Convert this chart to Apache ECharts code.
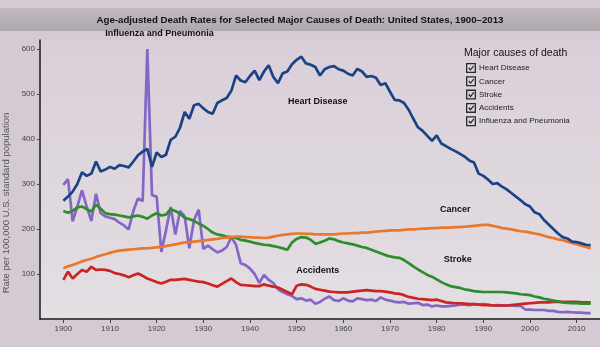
<!DOCTYPE html>
<html><head><meta charset="utf-8">
<script src="https://cdn.jsdelivr.net/npm/echarts@6/dist/echarts.min.js"></script>
<style>html,body{margin:0;padding:0;background:#d4cad3}#c{width:600px;height:347px}</style>
</head><body><div id="c"></div>
<script>
const firstYear = 1900;
const xTickLabels = [1900,1910,1920,1930,1940,1950,1960,1970,1980,1990,2000,2010];
const yTickLabels = [100,200,300,400,500,600];
const seriesNames = ['Heart Disease','Cancer','Stroke','Accidents','Influenza and Pneumonia'];

const heartDisease = [
263,272,283,300,326,318,323,350,328,332,
338,334,342,340,337,350,364,372,378,338,
370,360,365,398,405,425,460,445,475,478,
468,460,456,480,486,491,507,541,530,526,
540,552,531,550,564,538,524,546,550,566,
576,583,568,565,560,541,555,560,562,555,
552,545,541,556,550,538,540,536,520,524,
505,487,486,480,465,445,426,418,407,396,
408,390,384,378,373,367,361,352,348,323,
318,310,300,302,294,288,280,272,264,255,
250,237,233,220,210,200,190,182,179,172,
171,168,165,164];
const cancer = [
113,117,120,124,128,131,134,138,141,144,
147,150,152,153,154,155,156,157,157,158,
159,161,162,164,166,168,170,171,172,173,
174,176,177,178,180,181,182,183,183,182,
182,181,181,180,181,183,185,187,188,189,
190,190,189,189,188,188,188,188,188,189,
190,190,191,191,192,192,193,194,195,196,
197,197,197,198,199,199,200,201,201,202,
202,203,203,203,204,204,205,206,207,208,
209,209,207,205,202,201,199,197,195,194,
192,190,188,185,182,180,177,175,172,169,
166,163,160,157];
const stroke = [
240,236,240,248,250,244,239,254,245,235,
233,232,230,228,226,228,230,227,223,230,
235,230,232,244,240,234,225,222,218,212,
207,200,192,188,186,183,182,180,176,174,
172,169,167,165,164,162,160,157,154,170,
178,182,181,176,167,170,174,179,177,173,
170,168,166,163,160,158,154,150,146,142,
139,137,136,131,124,117,110,104,98,94,
88,82,77,73,71,69,66,64,62,61,
60,60,60,60,60,59,58,57,55,54,
53,50,48,45,43,41,39,37,36,35,
35,34,34,34];
const accidents = [
87,105,90,100,109,105,116,109,110,109,
107,102,100,97,93,97,101,96,90,86,
82,79,83,87,87,88,89,87,85,83,
82,79,75,72,78,84,90,82,76,75,
74,73,73,77,74,72,70,65,60,55,
74,77,76,72,67,65,63,61,60,59,
59,59,61,62,63,64,63,62,62,61,
59,57,56,53,49,47,45,44,43,42,
43,40,37,36,35,35,34,33,33,32,
31,31,30,30,30,30,31,32,33,34,
35,36,37,37,37,38,38,38,38,38,
38,37,37,37];
const influenzaPneumonia = [
298,311,217,250,286,250,218,278,235,228,
225,222,214,208,199,240,268,262,600,275,
272,149,197,249,188,240,228,157,220,243,
156,163,155,148,152,160,182,165,124,120,
112,100,80,98,87,80,66,60,55,51,
44,46,41,43,34,38,45,50,42,40,
46,41,39,46,44,42,43,40,48,43,
41,38,37,38,34,35,36,31,32,28,
30,28,28,29,30,32,32,31,33,32,
33,32,30,31,30,30,30,29,29,21,
21,20,20,20,18,18,16,15,16,15,
14,14,13,13];

// label anchors in data space [year, rate]
const labelAnchors = {
  'Heart Disease': [1954.5, 484],
  'Cancer': [1984, 243],
  'Stroke': [1984.5, 132],
  'Accidents': [1954.5, 108],
  'Influenza and Pneumonia': [1920.6, 600]
};

const colors = ['#1a4386','#e8782c','#2e8c2e','#cc2424','#8466c6'];
const allData = [heartDisease, cancer, stroke, accidents, influenzaPneumonia];
const FONT = "'Liberation Sans', Arial, sans-serif";

function pairs(arr){ return arr.map((v,i)=>[firstYear+i, v]); }

const checkIcon = 'path://M0,0L10,0L10,10L0,10Z M1.3,1.3L1.3,8.7L8.7,8.7L8.7,1.3Z M2.3,5.3L3.5,4.2L4.5,5.9L7.3,2.4L8.2,3.3L4.5,7.8Z';

const series = seriesNames.map((name, k) => ({
  name, type:'line', data: pairs(allData[k]), showSymbol:false, symbol:'none',
  lineStyle:{width:2.7, color:colors[k]}, itemStyle:{color:colors[k]},
  z: 2 + (4-k),
  markPoint:{
    symbol:'circle', symbolSize:0, silent:true,
    data:[{coord: labelAnchors[name]}],
    label:{show:true, position:'inside', formatter:name, color:'#111',
      fontFamily:FONT, fontSize:9, fontWeight:'bold',
      offset: name==='Influenza and Pneumonia' ? [0,-15] : [0,0]}
  }
}));

const chart = echarts.init(document.getElementById('c'), null, {renderer:'canvas'});
chart.setOption({
  animation:false,
  backgroundColor:'#d4cad3',
  textStyle:{fontFamily:FONT},
  graphic:[{type:'rect', z:0, shape:{x:0,y:8,width:600,height:23},
    style:{fill:new echarts.graphic.LinearGradient(0,0,0,1,[{offset:0,color:'#c3bbc2'},{offset:1,color:'#aea6ad'}])}},
   {type:'text', z:5, x:6, y:203, rotation:Math.PI/2,
    style:{text:'Rate per 100,000 U.S. standard population', fill:'#555', font:"9.5px 'Liberation Sans', Arial", align:'center', verticalAlign:'middle'}}],
  title:[
    {text:'Age-adjusted Death Rates for Selected Major Causes of Death: United States, 1900\u20132013',
     left:'center', top:15, padding:0,
     textStyle:{fontFamily:"'Liberation Sans Narrow','Liberation Sans',Arial", fontSize:9.7, fontWeight:'bold', color:'#111'}},
    {text:'Major causes of death', left:464, top:48, padding:0,
     textStyle:{fontFamily:FONT, fontSize:10.5, fontWeight:'normal', color:'#111'}}
  ],
  legend:{
    data:seriesNames, orient:'vertical', left:466, top:63, padding:0,
    itemWidth:10, itemHeight:10, itemGap:3.3, icon:checkIcon,
    itemStyle:{color:'#2a2a2a', borderWidth:0},
    textStyle:{fontFamily:FONT, fontSize:8, color:'#222', padding:[0,0,0,-2]},
    selectedMode:false
  },
  grid:{left:40, right:0, top:40, bottom:28, show:true, borderWidth:0,
    backgroundColor:new echarts.graphic.LinearGradient(0,0,0,1,[{offset:0,color:'#dacfd9'},{offset:1,color:'#e3dfe3'}])},
  xAxis:{type:'value', min:1895, max:2015,
    axisLine:{lineStyle:{color:'#1a1a1a', width:1.5}},
    axisTick:{customValues:xTickLabels, length:4, lineStyle:{color:'#444'}},
    axisLabel:{customValues:xTickLabels, fontSize:8, color:'#444', margin:6, formatter:v=>String(v)},
    splitLine:{show:false}},
  yAxis:{type:'value', min:0, max:620,
    axisLine:{show:true, lineStyle:{color:'#1a1a1a', width:1.5}},
    axisTick:{show:true, customValues:yTickLabels, length:3, lineStyle:{color:'#444'}},
    axisLabel:{customValues:yTickLabels, fontSize:8, color:'#444', margin:5, formatter:v=>String(v)},
    splitLine:{show:false}},
  series
});
</script></body></html>
